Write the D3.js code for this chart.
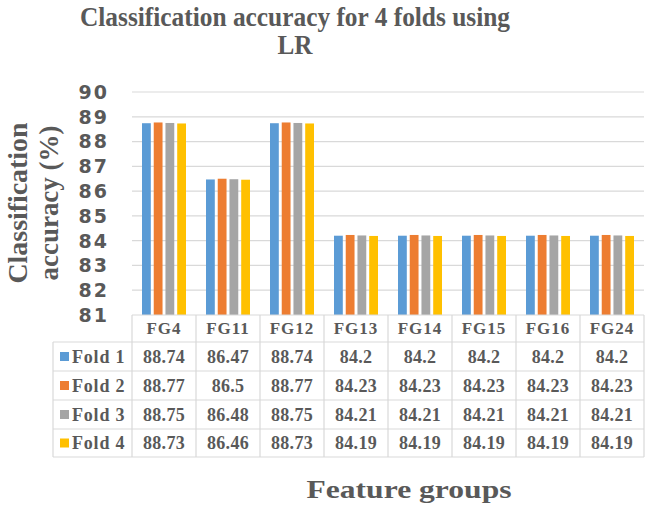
<!DOCTYPE html>
<html><head><meta charset="utf-8">
<script src="https://cdn.jsdelivr.net/npm/d3@7"></script>
<style>body{margin:0;background:#fff}svg{display:block}</style>
</head><body><svg id="c" width="646" height="508"></svg>
<script>
const categories = ["FG4","FG11","FG12","FG13","FG14","FG15","FG16","FG24"];
const folds = ["Fold 1","Fold 2","Fold 3","Fold 4"];
const fold1 = [88.74,86.47,88.74,84.2,84.2,84.2,84.2,84.2];
const fold2 = [88.77,86.5,88.77,84.23,84.23,84.23,84.23,84.23];
const fold3 = [88.75,86.48,88.75,84.21,84.21,84.21,84.21,84.21];
const fold4 = [88.73,86.46,88.73,84.19,84.19,84.19,84.19,84.19];
const yTicks = [81,82,83,84,85,86,87,88,89,90];
const colors = ["#5b9bd5","#ed7d31","#a5a5a5","#ffc000"];
const series = [fold1,fold2,fold3,fold4];

(function(){
const svg = d3.select("#c");
const grey = "#595959", line = "#d9d9d9";
const serif = "'Liberation Serif','Times New Roman',serif";
const pL = 132, pR = 644, pT = 92, pB = 315;
const x0 = d3.scaleBand().domain(categories).range([pL,pR]).padding(0);
const x1 = d3.scaleBand().domain(folds).range([10, x0.bandwidth()-10]).paddingInner(0.25);
const y = d3.scaleLinear().domain([81,90]).range([pB,pT]);

svg.append("g").selectAll("line").data(yTicks.slice(1)).join("line")
  .attr("x1",pL).attr("x2",pR).attr("y1",d=>y(d)).attr("y2",d=>y(d))
  .attr("stroke",line).attr("stroke-width",1.2);

svg.append("g").selectAll("text").data(yTicks).join("text")
  .attr("x",109).attr("y",d=>y(d)).attr("dy","0.36em").attr("text-anchor","end")
  .attr("font-family","'DejaVu Sans',Verdana,sans-serif").attr("font-weight","bold")
  .attr("font-size",19).attr("letter-spacing",2).attr("fill",grey).text(d=>d);

const g = svg.append("g");
series.forEach((s,i)=>{
  g.append("g").selectAll("rect").data(s).join("rect")
    .attr("x",(d,j)=>x0(categories[j])+x1(folds[i]))
    .attr("width",x1.bandwidth())
    .attr("y",d=>y(d)).attr("height",d=>y(81)-y(d))
    .attr("fill",colors[i]);
});

const rowH = [315,342,371,400,429,457];
const tbl = svg.append("g").attr("stroke",line).attr("stroke-width",1.2);
tbl.append("line").attr("x1",pL).attr("x2",pR).attr("y1",rowH[0]).attr("y2",rowH[0]);
rowH.slice(1).forEach(yy=>tbl.append("line").attr("x1",53).attr("x2",pR).attr("y1",yy).attr("y2",yy));
tbl.append("line").attr("x1",53).attr("x2",53).attr("y1",rowH[1]).attr("y2",rowH[5]);
categories.concat(["_end"]).forEach((c,j)=>{
  const xx = j<categories.length ? x0(c) : pR;
  tbl.append("line").attr("x1",xx).attr("x2",xx).attr("y1",rowH[0]).attr("y2",rowH[5]);
});

svg.append("g").selectAll("text").data(categories).join("text")
  .attr("x",d=>x0(d)+x0.bandwidth()/2).attr("y",(rowH[0]+rowH[1])/2).attr("dy","0.35em")
  .attr("text-anchor","middle").attr("font-family",serif).attr("font-weight","bold")
  .attr("font-size",17).attr("letter-spacing",1).attr("fill",grey).text(d=>d);

folds.forEach((f,i)=>{
  const cy = (rowH[i+1]+rowH[i+2])/2;
  svg.append("rect").attr("x",60).attr("y",cy-4.5).attr("width",9).attr("height",9).attr("fill",colors[i]);
  svg.append("text").attr("x",72).attr("y",cy).attr("dy","0.35em")
    .attr("font-family",serif).attr("font-weight","bold").attr("font-size",18)
    .attr("letter-spacing",0.8).attr("fill",grey).text(f);
  svg.append("g").selectAll("text").data(series[i]).join("text")
    .attr("x",(d,j)=>x0(categories[j])+x0.bandwidth()/2).attr("y",cy).attr("dy","0.35em")
    .attr("text-anchor","middle").attr("font-family",serif).attr("font-weight","bold")
    .attr("font-size",18).attr("letter-spacing",0.3).attr("fill",grey).text(d=>String(d));
});

svg.append("text").attr("x",295).attr("y",26).attr("text-anchor","middle")
  .attr("font-family",serif).attr("font-weight","bold").attr("font-size",28)
  .attr("textLength",430).attr("lengthAdjust","spacingAndGlyphs")
  .attr("fill",grey).text("Classification accuracy for 4 folds using");
svg.append("text").attr("x",295).attr("y",54).attr("text-anchor","middle")
  .attr("font-family",serif).attr("font-weight","bold").attr("font-size",28)
  .attr("textLength",35).attr("lengthAdjust","spacingAndGlyphs")
  .attr("fill",grey).text("LR");

const yt = svg.append("g").attr("transform","translate(0,203) rotate(-90)");
yt.append("text").attr("x",0).attr("y",27).attr("text-anchor","middle")
  .attr("font-family",serif).attr("font-weight","bold").attr("font-size",28)
  .attr("textLength",161).attr("lengthAdjust","spacingAndGlyphs")
  .attr("fill",grey).text("Classification");
yt.append("text").attr("x",0).attr("y",58).attr("text-anchor","middle")
  .attr("font-family",serif).attr("font-weight","bold").attr("font-size",28)
  .attr("textLength",155).attr("lengthAdjust","spacingAndGlyphs")
  .attr("fill",grey).text("accuracy (%)");

svg.append("text").attr("x",409).attr("y",498).attr("text-anchor","middle")
  .attr("font-family",serif).attr("font-weight","bold").attr("font-size",25)
  .attr("textLength",205).attr("lengthAdjust","spacingAndGlyphs")
  .attr("fill",grey).text("Feature groups");
})();
</script></body></html>
